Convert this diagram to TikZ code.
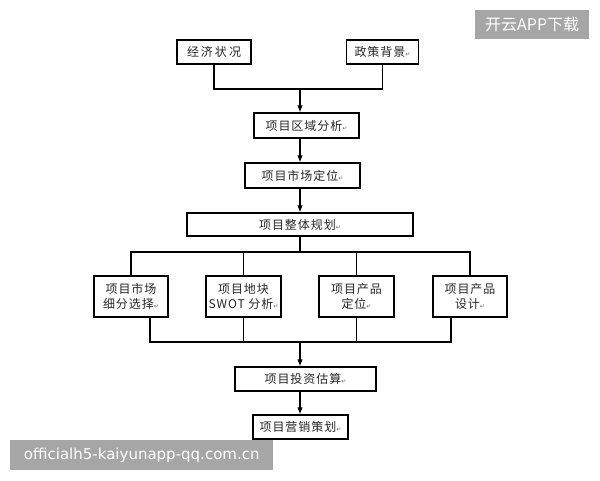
\documentclass[tikz,border=0pt]{standalone}
\usepackage{fontspec}
\setmainfont{Noto Sans CJK SC}[LetterSpace=8]
\newfontfamily\plaincjk{Noto Sans CJK SC}
\newfontfamily\dvfont{DejaVu Sans}
\newfontfamily\wmfont{DejaVu Sans}
\usetikzlibrary{arrows.meta}
\newcommand\retmark{{\dvfont\fontsize{6}{6}\selectfont\textcolor{black!60}{↵}}}
\tikzset{
  box/.style={draw, line width=1.2pt, rectangle, inner sep=0pt, align=center,
    text=black!85, font=\fontsize{12}{15}\selectfont},
  conn/.style={line width=1.2pt},
  arr/.style={line width=1.2pt, -{Latex[length=7pt,width=5.5pt]}},
  wm/.style={fill=black!35, text=white, inner sep=0pt, anchor=north west}
}
\begin{document}
\begin{tikzpicture}[x=1pt, y=-1pt]
\useasboundingbox (0,0) rectangle (600,480);
\fill[white] (0,0) rectangle (600,480);
% top boxes
\node[box, minimum width=74pt, minimum height=24pt] (econ) at (214,52) {经\,济\,状\,况};
\node[box, minimum width=72pt, minimum height=24pt] (policy) at (382.5,52) {政策背景\retmark};
\node[box, minimum width=105pt, minimum height=25pt] (region) at (306.5,125.5) {项目区域分析\retmark};
\node[box, minimum width=115pt, minimum height=25pt] (market) at (302.5,175.5) {项目市场定位\retmark};
\node[box, minimum width=226pt, minimum height=23pt] (overall) at (300,224.5) {项目整体规划\retmark};
% four boxes
\node[box, minimum width=74pt, minimum height=41pt] (b1) at (131,296.5) {项目市场\\细分选择\retmark};
\node[box, minimum width=75pt, minimum height=41pt] (b2) at (243.5,296.5) {项目地块\\SWOT 分析\retmark};
\node[box, minimum width=75pt, minimum height=41pt] (b3) at (356.5,296.5) {项目产品\\定位\retmark};
\node[box, minimum width=74pt, minimum height=41pt] (b4) at (470,296.5) {项目产品\\设计\retmark};
% bottom boxes
\node[box, minimum width=141pt, minimum height=24pt] (invest) at (305.5,379) {项目投资估算\retmark};
\node[box, minimum width=95pt, minimum height=24pt] (sales) at (300.5,427) {项目营销策划\retmark};
% junctions
\coordinate (j1) at (300,89);
\coordinate (j2) at (300,252);
\coordinate (j3) at (300,342);
\coordinate (b1s) at (150,317);
\coordinate (b4s) at (451,317);
% connectors
\draw[conn] (econ.south) |- (j1) -| (policy.south);
\draw[arr] (j1) -- (region.north -| j1);
\draw[arr] (region.south -| j1) -- (market.north -| j1);
\draw[arr] (market.south -| j1) -- (overall.north -| j1);
\draw[conn] (overall.south -| j2) -- (j2);
\draw[conn] (b1.north) |- (j2) -| (b4.north);
\draw[conn] (b2.north) |- (j2);
\draw[conn] (b3.north) |- (j2);
\draw[conn] (b1s) |- (j3) -| (b4s);
\draw[conn] (b2.south) |- (j3);
\draw[conn] (b3.south) |- (j3);
\draw[arr] (j3) -- (invest.north -| j3);
\draw[arr] (invest.south -| j3) -- (sales.north -| j3);
% watermarks
\node[wm, minimum width=114pt, minimum height=29pt] (wmtop) at (475,10) {};
\node[text=white, font=\plaincjk\fontsize{16}{16}\selectfont] (wmtoptext) at (wmtop.center) {开云APP下载};
\node[wm, minimum width=263pt, minimum height=30pt] (wmbot) at (10,440) {};
\node[text=white, font=\wmfont\fontsize{15}{15}\selectfont] (wmbottext) at (wmbot.center) {officialh5-kaiyunapp-qq.com.cn};
\end{tikzpicture}
\end{document}
